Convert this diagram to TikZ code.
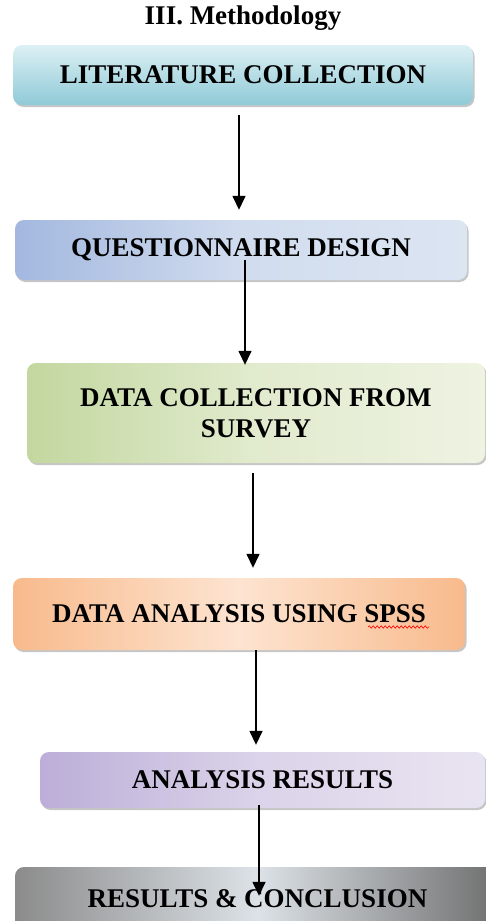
\documentclass[tikz,border=0pt]{standalone}
\usepackage{fontspec}
\setmainfont{Liberation Serif}
\usetikzlibrary{arrows.meta,shadows,decorations.pathmorphing}
\definecolor{tealD}{HTML}{8FCAD7}
\definecolor{tealL}{HTML}{DDF0F4}
\definecolor{blueD}{HTML}{A3B8DF}
\definecolor{blueL}{HTML}{DCE5F2}
\definecolor{greenD}{HTML}{C3D79F}
\definecolor{greenL}{HTML}{EEF3E2}
\definecolor{orangeD}{HTML}{F8BA8C}
\definecolor{orangeL}{HTML}{FDE4D1}
\definecolor{lavD}{HTML}{BCAED8}
\definecolor{lavL}{HTML}{E9E4F1}
\definecolor{grayD}{HTML}{6E6E6E}
\definecolor{grayL}{HTML}{DCE2E7}
\begin{document}
\begin{tikzpicture}[x=1pt,y=-1pt,
  titlestyle/.style={font=\bfseries\fontsize{27}{30}\selectfont, inner sep=0pt},
  boxstyle/.style={rounded corners=9pt, inner sep=0pt, align=center,
    font=\bfseries\fontsize{27}{31}\selectfont, text=black,
    drop shadow={shadow xshift=1.5pt, shadow yshift=-2pt, opacity=0.45, fill=gray}},
  arr/.style={line width=1.5pt, -{Triangle[width=13pt,length=14pt]}},
  wavy/.style={red, line width=0.6pt, decorate, decoration={snake, amplitude=1.2pt, segment length=4pt}}]
\useasboundingbox (0,0) rectangle (486,921);
\clip (0,0) rectangle (486,921);
\node[titlestyle] (title) at (243,18) {III. Methodology};
\node[boxstyle, minimum width=460pt, minimum height=60pt,
  top color=tealL, bottom color=tealD] (b1) at (243,75) {LITERATURE COLLECTION};
\node[boxstyle, minimum width=452pt, minimum height=60pt,
  left color=blueD, right color=blueL, middle color=blueL!80!blueD] (b2) at (241,250) {QUESTIONNAIRE DESIGN};
\node[boxstyle, minimum width=458pt, minimum height=100pt,
  left color=greenD, right color=greenL, middle color=greenL!70!greenD] (b3) at (256,413) {DATA COLLECTION FROM\\SURVEY};
\node[boxstyle, minimum width=452pt, minimum height=72pt,
  left color=orangeD, right color=orangeD, middle color=orangeL] (b4) at (239,614) {DATA ANALYSIS USING SPSS};
\node[boxstyle, minimum width=445pt, minimum height=56pt,
  left color=lavD, right color=lavL, middle color=lavL!70!lavD] (b5) at (262.5,780) {ANALYSIS RESULTS};
\node[boxstyle, minimum width=485pt, minimum height=63pt,
  left color=grayD!80, right color=grayD, middle color=grayL] (b6) at (257.5,898.5) {RESULTS \& CONCLUSION};
\draw[wavy] ([xshift=129pt,yshift=-13pt]b4.center) coordinate (w1) -- ([xshift=190pt,yshift=-13pt]b4.center) coordinate (w2);
\draw[arr] ([xshift=-4pt,yshift=-10pt]b1.south) -- ([xshift=-2pt,yshift=10pt]b2.north);
\draw[arr] ([xshift=4pt,yshift=20pt]b2.south) -- ([xshift=-11pt,yshift=-2pt]b3.north);
\draw[arr] ([xshift=-3pt,yshift=-10pt]b3.south) -- ([xshift=14pt,yshift=10pt]b4.north);
\draw[arr] ([xshift=17pt]b4.south) -- ([xshift=-6.5pt,yshift=7pt]b5.north);
\draw[arr] ([xshift=-3.5pt,yshift=3pt]b5.south) -- ([xshift=1.5pt,yshift=-29pt]b6.north);
\end{tikzpicture}
\end{document}
